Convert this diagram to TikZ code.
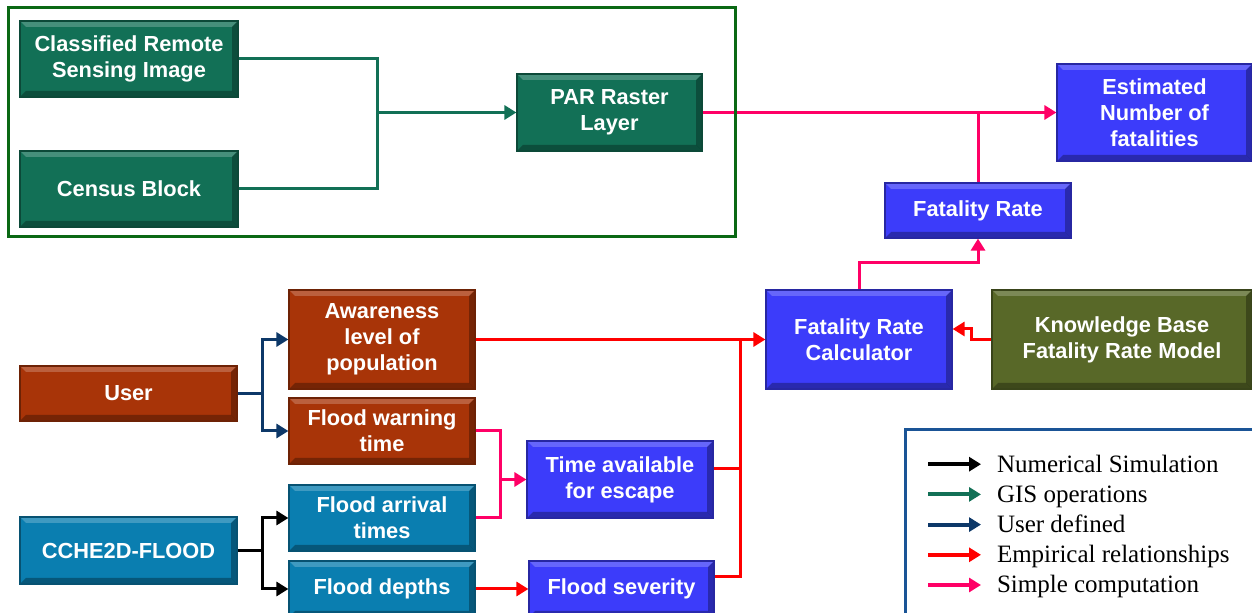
\documentclass[tikz,border=0pt]{standalone}
\usepackage{fontspec}
\setmainfont{Liberation Serif}
\setsansfont{Liberation Sans}
\usetikzlibrary{arrows.meta,calc}
\definecolor{gisgreen}{RGB}{18,112,86}
\definecolor{boxblue}{RGB}{60,60,250}
\definecolor{boxbrown}{RGB}{168,52,8}
\definecolor{boxcyan}{RGB}{10,126,176}
\definecolor{boxolive}{RGB}{88,104,40}
\definecolor{usernavy}{RGB}{13,56,104}
\definecolor{empred}{RGB}{255,0,0}
\definecolor{comppink}{RGB}{255,0,102}
\definecolor{framegreen}{RGB}{10,104,20}
\definecolor{legblue}{RGB}{26,84,150}
\newcommand{\boxfont}{\sffamily\bfseries\fontsize{10.9}{12.9}\selectfont}
\tikzset{
  blk/.style   = {fill=#1,draw=#1!65!black,line width=0.6pt,text=white,
                  font=\boxfont,align=center,inner sep=0pt,
                  path picture={
                    \fill[white,opacity=.22] (path picture bounding box.north west)
                      -- (path picture bounding box.north east)
                      -- ([shift={(-3pt,-3pt)}]path picture bounding box.north east)
                      -- ([shift={(3pt,-3pt)}]path picture bounding box.north west) -- cycle;
                    \fill[black,opacity=.3] (path picture bounding box.south west)
                      -- (path picture bounding box.south east)
                      -- ([shift={(-3pt,3pt)}]path picture bounding box.south east)
                      -- ([shift={(3pt,3pt)}]path picture bounding box.south west) -- cycle;
                    \fill[black,opacity=.3] (path picture bounding box.north east)
                      -- (path picture bounding box.south east)
                      -- ([shift={(-3pt,3pt)}]path picture bounding box.south east)
                      -- ([shift={(-3pt,-3pt)}]path picture bounding box.north east) -- cycle;
                  }},
  wire/.style    = {line width=1.5pt,#1},
  wirearr/.style = {wire=#1,-{Triangle[length=6pt,width=7pt]}},
  legtxt/.style  = {anchor=base west,inner sep=0pt,xshift=7pt,yshift=-4pt,
                    font=\rmfamily\fontsize{12.5}{14}\selectfont,text=black}
}

\begin{document}
\begin{tikzpicture}[x=0.5pt,y=-0.5pt]
  \useasboundingbox (0,0) rectangle (1252,613);

  % GIS part
  \node[blk=gisgreen,minimum width=109pt,minimum height=38pt] (crsi) at (129,59) {Classified Remote\\Sensing Image};
  \node[blk=gisgreen,minimum width=109pt,minimum height=38pt] (census) at (129,189) {Census Block};
  \node[blk=gisgreen,minimum width=92.5pt,minimum height=38.5pt] (par) at (609.5,112.5) {PAR Raster\\Layer};

  % fatality part
  \node[blk=boxblue,minimum width=97.5pt,minimum height=48.5pt] (est) at (1154.5,112.5) {Estimated\\Number of\\fatalities};
  \node[blk=boxblue,minimum width=93pt,minimum height=27.5pt] (frate) at (978,210.5) {Fatality Rate};
  \node[blk=boxblue,minimum width=93pt,minimum height=49.5pt] (frcalc) at (859,339.5) {Fatality Rate\\Calculator};
  \node[blk=boxolive,minimum width=130pt,minimum height=49.5pt] (kb) at (1122,339.5) {Knowledge Base\\Fatality Rate Model};

  % user inputs
  \node[blk=boxbrown,minimum width=108.5pt,minimum height=27.5pt] (user) at (128.5,393.5) {User};
  \node[blk=boxbrown,minimum width=93pt,minimum height=49.5pt] (aware) at (382,339.5) {Awareness\\level of\\population};
  \node[blk=boxbrown,minimum width=93pt,minimum height=33pt] (warn) at (382,431) {Flood warning\\time};

  % simulation
  \node[blk=boxcyan,minimum width=108.5pt,minimum height=33.5pt] (cche) at (128.5,550.5) {CCHE2D-FLOOD};
  \node[blk=boxcyan,minimum width=93pt,minimum height=33pt] (arrive) at (382,518) {Flood arrival\\times};
  \node[blk=boxcyan,minimum width=93pt,minimum height=28pt] (depth) at (382,589) {Flood depths};
  \node[blk=boxblue,minimum width=93pt,minimum height=38.5pt] (tavail) at (620,479.5) {Time available\\for escape};
  \node[blk=boxblue,minimum width=92.5pt,minimum height=28pt] (fsev) at (621.5,589) {Flood severity};

  % junctions
  \coordinate (jg) at (377,112.5);
  \coordinate (ju) at (262,393.5);
  \coordinate (jc) at (262,550.5);
  \coordinate (jt) at (500,479.5);
  \coordinate (je) at (740,339.5);
  \coordinate (jf) at (859,263);
  \coordinate (kj) at (971,329);

  \draw[wire=gisgreen] (crsi.east) -| (jg);
  \draw[wire=gisgreen] (census.east) -| (jg);
  \draw[wirearr=gisgreen] (jg) -- (par.west);

  \draw[wirearr=comppink] (par.east) -- (est.west);
  \draw[wire=comppink] (frate.north) -- (frate.north |- est.west);
  \draw[wirearr=comppink] (frcalc.north) -- (jf) -| (frate.south);

  \draw[wirearr=empred] (kb.west) -| (kj) -- (kj -| frcalc.east);
  \draw[wirearr=empred] (aware.east) -- (frcalc.west);
  \draw[wire=empred] ($(tavail.north east)!0.36!(tavail.south east)$) -| (je);
  \draw[wire=empred] ($(fsev.north east)!0.29!(fsev.south east)$) -| (je);
  \draw[wirearr=empred] (depth.east) -- (fsev.west);

  \draw[wire=comppink] (warn.east) -| (jt);
  \draw[wire=comppink] (arrive.east) -| (jt);
  \draw[wirearr=comppink] (jt) -- (tavail.west);

  \draw[wire=usernavy] (user.east) -- (ju);
  \draw[wirearr=usernavy] (ju) |- (aware.west);
  \draw[wirearr=usernavy] (ju) |- (warn.west);

  \draw[wire=black] (cche.east) -- (jc);
  \draw[wirearr=black] (jc) |- (arrive.west);
  \draw[wirearr=black] (jc) |- (depth.west);

  % frames
  \draw[framegreen,line width=1.5pt] (8,8) rectangle (735,237);
  \draw[legblue,line width=1.5pt] (905,430) rectangle (1262,623);

  % legend
  \foreach \c/\t [count=\i] in {black/Numerical Simulation,gisgreen/GIS operations,
      usernavy/User defined,empred/Empirical relationships,comppink/Simple computation}{
    \draw[wirearr=\c,line width=2pt] (928,{434+30.2*\i}) -- ++(53,0) node[legtxt] (leg\i) {\t};
  }
\end{tikzpicture}
\end{document}
